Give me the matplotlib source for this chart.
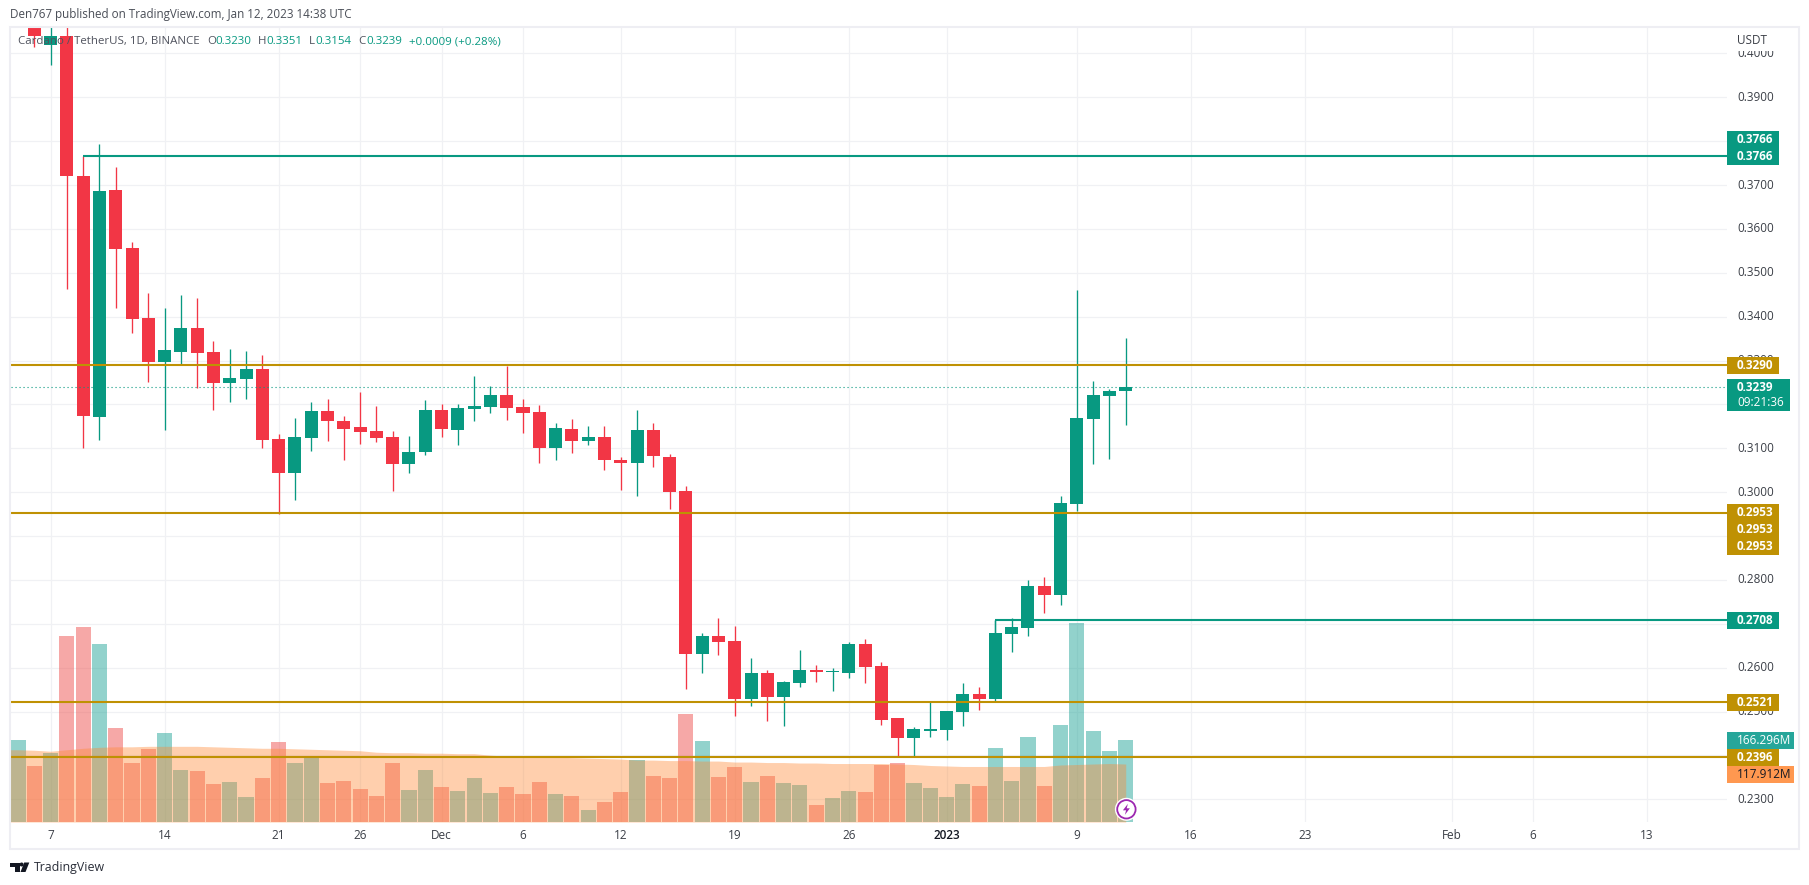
import numpy as np
import matplotlib
matplotlib.use("Agg")
import matplotlib.pyplot as plt
from matplotlib.patches import Rectangle, Polygon, Circle

plt.rcParams['font.family'] = ['Open Sans', 'DejaVu Sans']

# ---- data (day index 0 = Nov 5 2022) ----
opens = [.4120,.4075,.4020,.4040,.3721,.3171,.3689,.3556,.3397,.3296,.3319,.3374,.3319,.3249,.3258,.3281,.3121,.3043,.3123,.3185,.3162,.3148,.3139,.3125,.3064,.3091,.3187,.3141,.3189,.3194,.3221,.3194,.3183,.3100,.3144,.3116,.3125,.3073,.3066,.3141,.3080,.3002,.2631,.2672,.2660,.2528,.2587,.2533,.2565,.2594,.2590,.2587,.2654,.2604,.2485,.2439,.2455,.2457,.2499,.2540,.2528,.2676,.2690,.2786,.2766,.2973,.3167,.3219,.3230]
highs = [.4180,.4090,.4100,.4100,.3767,.3794,.3741,.3570,.3454,.3420,.3449,.3442,.3344,.3326,.3322,.3312,.3132,.3169,.3205,.3212,.3173,.3228,.3196,.3139,.3128,.3210,.3201,.3201,.3265,.3242,.3288,.3212,.3198,.3157,.3166,.3151,.3151,.3080,.3187,.3157,.3087,.3014,.2679,.2713,.2695,.2622,.2594,.2569,.2640,.2606,.2599,.2658,.2665,.2613,.2485,.2464,.2521,.2501,.2565,.2556,.2708,.2713,.2800,.2806,.2991,.3461,.3253,.3235,.3351]
lows = [.4090,.4015,.3974,.3464,.3100,.3119,.3420,.3363,.3251,.3141,.3292,.3237,.3187,.3205,.3212,.3100,.2950,.2982,.3094,.3116,.3073,.3110,.3114,.3003,.3043,.3084,.3125,.3107,.3162,.3180,.3164,.3135,.3066,.3073,.3089,.3107,.3050,.3005,.2991,.3057,.2962,.2551,.2587,.2629,.2490,.2512,.2478,.2466,.2556,.2567,.2547,.2576,.2565,.2469,.2397,.2398,.2442,.2435,.2466,.2503,.2524,.2636,.2672,.2724,.2743,.2957,.3064,.3075,.3154]
closes = [.4160,.4040,.4040,.3721,.3173,.3686,.3555,.3395,.3296,.3324,.3374,.3317,.3249,.3260,.3281,.3119,.3043,.3125,.3185,.3162,.3144,.3137,.3123,.3064,.3091,.3187,.3144,.3192,.3196,.3221,.3192,.3180,.3100,.3146,.3116,.3125,.3073,.3066,.3141,.3082,.3001,.2631,.2672,.2658,.2528,.2587,.2533,.2567,.2594,.2590,.2592,.2654,.2602,.2480,.2439,.2460,.2460,.2501,.2540,.2528,.2679,.2692,.2786,.2766,.2975,.3169,.3221,.3230,.3239]
volumes = [166.3,113.4,139.8,377.9,396.2,361.6,190.7,119.5,147.9,180.5,105.2,103.2,76.7,80.8,50.3,88.9,162.2,119.5,131.0,78.8,82.8,66.5,52.3,119.5,64.5,105.2,70.6,62.5,88.9,58.4,70.6,56.4,80.8,56.4,52.3,23.8,40.1,60.4,125.6,93.0,88.9,219.2,164.2,91.0,111.3,80.8,93.0,78.8,74.7,34.0,48.2,62.5,60.4,115.4,119.5,78.8,68.6,50.3,76.7,72.6,150.0,82.8,172.4,72.6,196.8,404.4,184.6,143.9,166.3]
volume_ma = [147,147,146,144,147,150,152,153,153,154,154,154,154,153,152,151,150,150,149,148,147,146,145,142,141,141,140,140,139,139,136,134,133,132,132,131,130,129,128,126,126,125,125,124,124,122,122,121,121,120,120,119,119,119,119,118,117,115,114,113,113,113,113,113,113,116,117,118,119,118]
grid_prices = [.23,.24,.25,.26,.27,.28,.29,.30,.31,.32,.33,.34,.35,.36,.37,.38,.39,.40]
axis_prices = [.23,.25,.26,.28,.30,.31,.33,.34,.35,.36,.37,.39,.40]
tick_days = [2,9,16,21,26,31,37,44,51,57,65,72,79,88,93,100]
tick_labels = ['7','14','21','26','Dec','6','12','19','26','2023','9','16','23','Feb','6','13']
gold_levels = [.3290,.2953,.2521,.2396]
green_levels = [.3766,.2708]
green_starts = [4,60]
last_price = .3239

GREEN, RED, GOLD = '#089981', '#F23645', '#BF9103'
days = np.arange(len(opens))

W, H = 1809, 885
fig = plt.figure(figsize=(W/100, H/100), dpi=100, facecolor='white')
rect = [11/W, (H-822)/H, (1727-11)/W, (822-28)/H]
xlim = ((11-18.0)/16.29, (1727-18.0)/16.29)
ylim = (.39-(822-97.3)/4387.5, .39+(97.3-28)/4387.5)

# grid layer
gax = fig.add_axes(rect, zorder=1)
gax.set_xlim(xlim); gax.set_ylim(ylim)
gax.set_xticks(tick_days); gax.set_yticks(grid_prices)
gax.grid(True, color='#F0F1F4', lw=0.9)
gax.tick_params(length=0, labelbottom=False, labelleft=False)
for s in gax.spines.values(): s.set_visible(False)

# volume layer
vax = fig.add_axes(rect, zorder=2)
vax.patch.set_alpha(0)
vax.set_xlim(xlim); vax.set_ylim(0, (822-28)*2.035)
vcol = ['#26A69A' if c >= o else '#EF5350' for o, c in zip(opens, closes)]
vax.bar(days, volumes, width=0.93, color=vcol, alpha=0.5, lw=0)
vax.fill_between(np.arange(-1, len(volume_ma)-1), 0, volume_ma, color='#FF8934', alpha=0.4, lw=0)
vax.axis('off')

# price layer
ax = fig.add_axes(rect, zorder=3)
ax.patch.set_alpha(0)
ax.set_xlim(xlim); ax.set_ylim(ylim)
ccol = [GREEN if c >= o else RED for o, c in zip(opens, closes)]
ax.vlines(days, lows, highs, colors=ccol, lw=0.95)
bottoms = np.minimum(opens, closes)
heights = np.abs(np.array(closes)-np.array(opens))
ax.bar(days, heights, bottom=bottoms, width=0.8, color=ccol, lw=0)
ax.axhline(last_price, color=GREEN, lw=0.8, ls=(0, (1, 2.6)))
for lv in gold_levels:
    ax.axhline(lv, color=GOLD, lw=1.5)
ax.hlines(green_levels, green_starts, xlim[1], colors=GREEN, lw=1.5)
ax.vlines([green_starts[1]], [.2660], [green_levels[1]], colors=GREEN, lw=0.95)
ax.axis('off')

# overlay in pixel coordinates
ov = fig.add_axes([0, 0, 1, 1], zorder=5)
ov.patch.set_alpha(0)
ov.set_xlim(0, W); ov.set_ylim(H, 0); ov.axis('off')
BORDER = '#EEEEF3'
ov.add_patch(Rectangle((10, 27), 1789, 822, fill=False, ec=BORDER, lw=1.5))

FS = 8.5
TXT = '#3B3F47'
def px_price(p):
    return 97.3 + (.39-p)*4387.5

for p in axis_prices:
    ov.text(1737, px_price(p), f'{p:.4f}', fontsize=FS, color=TXT, va='center', ha='left', zorder=2)
ov.add_patch(Rectangle((1729, 29), 66, 21.5, fc='white', ec='none', zorder=3))
ov.text(1737, 40.5, 'USDT', fontsize=FS, color=TXT, va='center', ha='left', zorder=4)

boxes = [
    (131, 148, 1779, GREEN, ['0.3766'], 'white'),
    (148, 165, 1779, GREEN, ['0.3766'], 'white'),
    (357, 374, 1779, GOLD, ['0.3290'], 'white'),
    (504, 521, 1779, GOLD, ['0.2953'], 'white'),
    (521, 538, 1779, GOLD, ['0.2953'], 'white'),
    (538, 555, 1779, GOLD, ['0.2953'], 'white'),
    (612, 629, 1779, GREEN, ['0.2708'], 'white'),
    (694, 711, 1779, GOLD, ['0.2521'], 'white'),
    (732, 749, 1794, '#26A69A', ['166.296M'], 'white'),
    (749, 766, 1779, GOLD, ['0.2396'], 'white'),
    (766, 783, 1794, '#FF9850', ['117.912M'], '#131722'),
]
for y0, y1, x1, c, t, tc in boxes:
    ov.add_patch(Rectangle((1727, y0), x1-1727, y1-y0, fc=c, ec='none', zorder=5))
    ov.text(1737, (y0+y1)/2, t[0], fontsize=FS, color=tc, va='center', ha='left', zorder=6,
            fontweight='bold' if tc == 'white' and 'M' not in t[0] else 'normal')
ov.add_patch(Rectangle((1727, 379), 63, 32, fc=GREEN, ec='none', zorder=5))
ov.text(1737, 387.5, '0.3239', fontsize=FS, color='white', va='center', fontweight='bold', zorder=6)
ov.text(1737, 403, '09:21:36', fontsize=FS, color='white', va='center', zorder=6)

for d, l in zip(tick_days, tick_labels):
    ov.text(18.0+16.29*d, 835.5, l, fontsize=FS, color='#131722' if l == '2023' else TXT,
            ha='center', va='center', fontweight='semibold' if l == '2023' else 'normal')

ov.text(10, 14.5, 'Den767 published on TradingView.com, Jan 12, 2023 14:38 UTC', fontsize=8.35, color='#4A4E57', va='center')
LG = '#50535E'
ov.text(18, 41.5, 'Cardano / TetherUS, 1D, BINANCE', fontsize=8.25, color=LG, va='center')
for x, t, c in [(207, 'O', LG), (215, '0.3230', GREEN), (258, 'H', LG), (266, '0.3351', GREEN),
                (309, 'L', LG), (315, '0.3154', GREEN), (358, 'C', LG), (366, '0.3239', GREEN),
                (409, '+0.0009 (+0.28%)', GREEN)]:
    ov.text(x, 41.5, t, fontsize=8.25, color=c, va='center')

# TradingView logo
DK = '#131722'
ov.add_patch(Polygon([(10, 862.5), (19.5, 862.5), (19.5, 872), (15, 872), (15, 866.5), (10, 866.5)], fc=DK, ec='none'))
ov.add_patch(Circle((21.6, 864.5), 2.0, fc=DK, ec='none'))
ov.add_patch(Polygon([(24.2, 862.5), (29.3, 862.5), (25.5, 872), (20.5, 872)], fc=DK, ec='none'))
ov.text(33.5, 867, 'TradingView', fontsize=8.9, color='#2A2E39', va='center')

# lightning badge
cx, cy = 1126.4, 809.3
ov.add_patch(Circle((cx, cy), 11.5, fc='white', ec='none', zorder=7))
ov.add_patch(Circle((cx, cy), 9.2, fc='white', ec='#9C27B0', lw=1.3, zorder=8))
ov.add_patch(Polygon([(cx+1.5, cy-5.5), (cx-3.5, cy+1), (cx-0.3, cy+1), (cx-1.5, cy+5.5),
                      (cx+3.5, cy-1), (cx+0.3, cy-1)], fc='#9C27B0', ec='none', zorder=9))

fig.savefig('out.png', dpi=100, facecolor='white')
